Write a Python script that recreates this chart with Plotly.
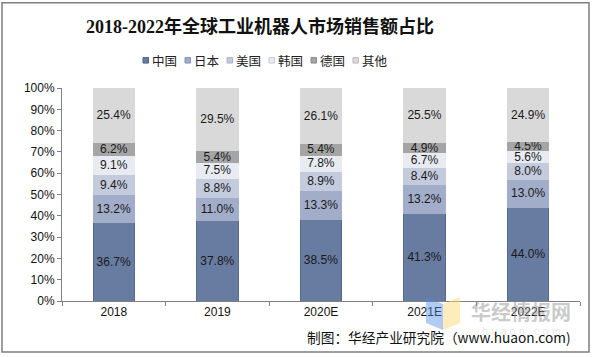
import plotly.graph_objects as go

years = ["2018", "2019", "2020E", "2021E", "2022E"]
series_names = ["中国", "日本", "美国", "韩国", "德国", "其他"]
china = [36.7, 37.8, 38.5, 41.3, 44.0]
japan = [13.2, 11.0, 13.3, 13.2, 13.0]
usa = [9.4, 8.8, 8.9, 8.4, 8.0]
korea = [9.1, 7.5, 7.8, 6.7, 5.6]
germany = [6.2, 5.4, 5.4, 4.9, 4.5]
others = [25.4, 29.5, 26.1, 25.5, 24.9]
y_ticks = [0, 10, 20, 30, 40, 50, 60, 70, 80, 90, 100]

values = [china, japan, usa, korea, germany, others]
colors = ["#687ba1", "#a1adc9", "#c4cbdd", "#e8ebf2", "#a5a5a5", "#d9d9d9"]
edges = ["#56698f", "#a1adc9", "#c4cbdd", "#e8ebf2", "#a5a5a5", "#d9d9d9"]
legend_edges = ["#4d6088", "#8594b5", "#a8b3cb", "#c6cbd8", "#8a8a8a", "#bdbdbd"]

FONT = "Liberation Sans, Arial, Noto Sans CJK SC, sans-serif"
CJK = "Noto Sans CJK SC, sans-serif"

fig = go.Figure()
for name, vals, c, e in zip(series_names, values, colors, edges):
    fig.add_trace(go.Bar(
        x=years, y=vals, name=name,
        marker=dict(color=c, line=dict(color=e, width=1)),
        text=[f"{v:.1f}%" for v in vals],
        textposition="inside", insidetextanchor="middle",
        textfont=dict(family=FONT, size=12, color="#1a1a1a"),
        constraintext="none",
        showlegend=False,
    ))

W, H = 595, 357
L, R, T, B = 62, 15, 87.5, 56
pw = W - L - R
ph = H - T - B

def px(x):
    return (x - L) / pw

def py(y):
    return (H - B - y) / ph

fig.update_layout(
    barmode="stack",
    width=W, height=H,
    margin=dict(l=L, r=R, t=T, b=B, pad=0),
    paper_bgcolor="white", plot_bgcolor="white",
    bargap=0.6,
    showlegend=False,
    title=dict(
        text="<b>2018-2022年全球工业机器人市场销售额占比</b>",
        font=dict(family="Liberation Serif, Noto Sans CJK SC, serif", size=18, color="#111111"),
        x=260 / W, xref="container", xanchor="center",
        y=1 - 27 / H, yref="container", yanchor="middle",
    ),
    xaxis=dict(
        type="category", showline=True, linecolor="#808080", linewidth=1,
        ticks="outside", tickson="boundaries", ticklen=4, tickcolor="#808080",
        tickfont=dict(family=FONT, size=12, color="#111111"),
        showgrid=False, zeroline=False,
    ),
    yaxis=dict(
        range=[0, 100], tickvals=y_ticks, ticktext=[f"{t}%" for t in y_ticks],
        showline=True, linecolor="#808080", linewidth=1,
        ticks="outside", ticklen=4, tickcolor="#808080",
        tickfont=dict(family=FONT, size=12, color="#111111"),
        showgrid=False, zeroline=False,
    ),
    font=dict(family=FONT),
)

# manual compact legend
for i, (name, c, e) in enumerate(zip(series_names, colors, legend_edges)):
    sx = 143 + 42 * i
    fig.add_shape(type="rect", xref="paper", yref="paper",
                  x0=px(sx), x1=px(sx + 5.5), y0=py(62.5), y1=py(57),
                  fillcolor=c, line=dict(color=e, width=1))
    fig.add_annotation(text=name, xref="paper", yref="paper",
                       x=px(sx + 7), y=py(60), xanchor="left", yanchor="middle",
                       showarrow=False,
                       font=dict(family=CJK, size=12.5, color="#222222"))

# outer border
fig.add_shape(type="rect", xref="paper", yref="paper",
              x0=px(2), x1=px(589), y0=py(352), y1=py(2),
              line=dict(color="#7f7f7f", width=1.5), fillcolor="rgba(0,0,0,0)", layer="below")

# watermark
fig.add_shape(type="path", xref="paper", yref="paper",
              path=f"M {px(426)} {py(297)} L {px(443)} {py(304)} L {px(443)} {py(330)} L {px(426)} {py(323)} Z",
              fillcolor="rgba(80,140,230,0.45)", line=dict(width=0))
fig.add_shape(type="path", xref="paper", yref="paper",
              path=f"M {px(443)} {py(304)} L {px(460)} {py(297)} L {px(460)} {py(323)} L {px(443)} {py(330)} Z",
              fillcolor="rgba(250,220,120,0.5)", line=dict(width=0))
fig.add_annotation(text="<b>华经情报网</b>", xref="paper", yref="paper",
                   x=px(521), y=py(312), xanchor="center", yanchor="middle", showarrow=False,
                   font=dict(family=CJK, size=20, color="rgba(150,150,150,0.5)"))
fig.add_annotation(text="h u a o n . c o m", xref="paper", yref="paper",
                   x=px(521), y=py(331), xanchor="center", yanchor="middle", showarrow=False,
                   font=dict(family=FONT, size=11, color="rgba(180,180,180,0.35)"))

# source
fig.add_annotation(text="制图：华经产业研究院（www.huaon.com)", xref="paper", yref="paper",
                   x=px(573), y=py(337), xanchor="right", yanchor="middle", showarrow=False,
                   font=dict(family=CJK, size=13.7, color="#111111"))

fig.write_html("out.html", config={"displayModeBar": False, "staticPlot": True},
               post_script="document.body.style.margin='0';")
